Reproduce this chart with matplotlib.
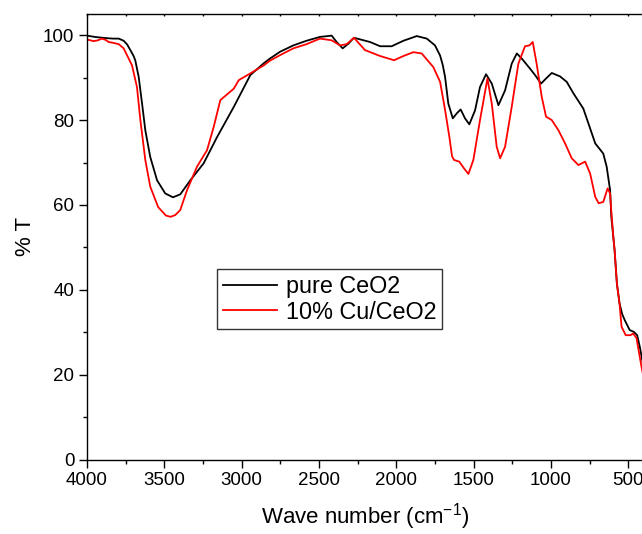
import matplotlib
matplotlib.use("Agg")
import matplotlib.pyplot as plt
from matplotlib.ticker import MultipleLocator

plt.rcParams['font.family'] = ['Liberation Sans', 'DejaVu Sans']
plt.rcParams['mathtext.fontset'] = 'custom'
plt.rcParams['mathtext.rm'] = 'Liberation Sans'
plt.rcParams['mathtext.it'] = 'Liberation Sans'

# pure CeO2
w_pure = [4000, 3950, 3900, 3871, 3830, 3795, 3763, 3740, 3720, 3700, 3688, 3666, 3644,
          3623, 3591, 3547, 3494, 3444, 3397, 3332, 3246, 3159, 3051, 2944, 2857, 2817,
          2752, 2666, 2580, 2494, 2418, 2386, 2347, 2310, 2274, 2170, 2105, 2030, 1954,
          1868, 1803, 1750, 1717, 1700, 1685, 1664, 1635, 1609, 1584, 1556, 1528, 1491,
          1459, 1420, 1383, 1340, 1297, 1254, 1221, 1189, 1135, 1103, 1064, 1032, 995,
          942, 898, 855, 791, 758, 714, 662, 640, 618, 610, 589, 574, 557, 540, 524, 491,
          465, 443, 426, 414, 405]
t_pure = [99.9, 99.6, 99.4, 99.3, 99.2, 99.2, 98.7, 97.8, 96.5, 95.2, 94.1, 90.2, 83.9,
          77.6, 71.3, 65.8, 62.7, 61.8, 62.5, 65.8, 69.8, 76.0, 83.1, 90.6, 93.4, 94.5,
          96.1, 97.6, 98.7, 99.6, 99.9, 98.4, 96.9, 98.0, 99.4, 98.4, 97.4, 97.4, 98.7,
          99.8, 99.2, 97.6, 95.2, 93.0, 90.2, 83.9, 80.4, 81.6, 82.5, 80.4, 79.0, 82.3,
          87.8, 90.8, 88.6, 83.5, 87.0, 93.3, 95.7, 94.5, 92.1, 90.6, 88.6, 89.8, 91.1,
          90.3, 89.0, 86.3, 82.7, 79.2, 74.5, 72.1, 69.0, 63.5, 57.2, 49.4, 41.5, 36.8, 34.3,
          32.9, 30.5, 30.1, 29.3, 26.6, 24.2, 22.5]

# 10% Cu/CeO2
w_cu = [4000, 3957, 3930, 3903, 3880, 3860, 3830, 3795, 3763, 3740, 3709, 3677, 3655,
        3623, 3591, 3540, 3490, 3460, 3430, 3397, 3353, 3289, 3224, 3180, 3138, 3051,
        3019, 2944, 2857, 2817, 2752, 2666, 2580, 2494, 2418, 2364, 2321, 2274, 2203,
        2105, 2015, 1954, 1890, 1836, 1761, 1717, 1685, 1657, 1640, 1627, 1593, 1562,
        1534, 1502, 1459, 1411, 1383, 1351, 1329, 1297, 1254, 1211, 1168, 1140, 1118,
        1093, 1060, 1032, 995, 952, 909, 866, 823, 779, 747, 714, 692, 662, 634, 618,
        610, 597, 589, 574, 557, 544, 517, 486, 469, 447, 430, 415, 405]
t_cu = [99.0, 98.6, 98.8, 99.2, 98.9, 98.4, 98.2, 97.9, 96.9, 95.2, 92.9, 87.8, 80.0,
        70.6, 64.3, 59.5, 57.5, 57.2, 57.6, 58.8, 63.5, 69.0, 72.9, 78.5, 84.7, 87.4,
        89.4, 91.0, 92.9, 94.0, 95.3, 96.9, 97.9, 99.2, 98.8, 97.6, 97.9, 99.4, 96.5,
        95.1, 94.1, 95.1, 96.0, 95.7, 92.5, 89.0, 82.4, 76.0, 71.5, 70.6, 70.2, 68.6,
        67.3, 70.6, 80.0, 89.8, 83.9, 73.7, 71.0, 73.7, 83.1, 93.3, 97.4, 97.6, 98.4,
        93.3, 85.5, 80.8, 80.0, 77.6, 74.5, 71.0, 69.4, 70.2, 67.4, 61.9, 60.4, 60.7, 63.9, 62.7,
        58.5, 52.5, 49.4, 41.5, 36.8, 31.3, 29.3, 29.3, 29.7, 28.6, 25.0, 21.9, 20.0]

labels = ['pure CeO2', '10% Cu/CeO2']
x_ticks = [4000, 3500, 3000, 2500, 2000, 1500, 1000, 500]
y_ticks = [0, 20, 40, 60, 80, 100]

W, H = 642, 534
fig = plt.figure(figsize=(W / 100, H / 100), dpi=100)
left, right, top, bottom = 87, 643.8, 14, 459.5
ax = fig.add_axes([left / W, (H - bottom) / H, (right - left) / W, (bottom - top) / H])

ax.plot(w_pure, t_pure, color='black', lw=1.3, label=labels[0])
ax.plot(w_cu, t_cu, color='#ff0000', lw=1.3, label=labels[1])

ax.set_xlim(4000, 400)
ax.set_ylim(0, 105)
ax.set_xticks(x_ticks)
ax.set_yticks(y_ticks)
ax.xaxis.set_minor_locator(MultipleLocator(250))
ax.yaxis.set_minor_locator(MultipleLocator(10))
ax.tick_params(axis='both', which='major', direction='out', length=6, width=1.0,
               labelsize=13.5, pad=3)
ax.tick_params(axis='both', which='minor', direction='out', length=3.2, width=1.0)
ax.spines['right'].set_visible(False)
for s in ['left', 'bottom', 'top']:
    ax.spines[s].set_linewidth(1.0)

sec = ax.secondary_xaxis('top')
sec.set_xticks(list(range(4000, 399, -250)))
sec.tick_params(direction='in', length=1.5, width=1.0, labeltop=False)
sec.spines['top'].set_visible(False)

ax.set_xlabel('Wave number (cm$^{-1}$)', fontsize=16, labelpad=9)
ax.set_ylabel('% T', fontsize=16, labelpad=5)

leg = ax.legend(loc='upper left', bbox_to_anchor=(0.2335, 0.4276), borderaxespad=0,
                fontsize=16.8, frameon=True, fancybox=False, edgecolor='black',
                handlelength=2.3, handletextpad=0.4, borderpad=0.25, labelspacing=0.12)
leg.get_frame().set_linewidth(1.0)

fig.savefig('out.png', dpi=100)
